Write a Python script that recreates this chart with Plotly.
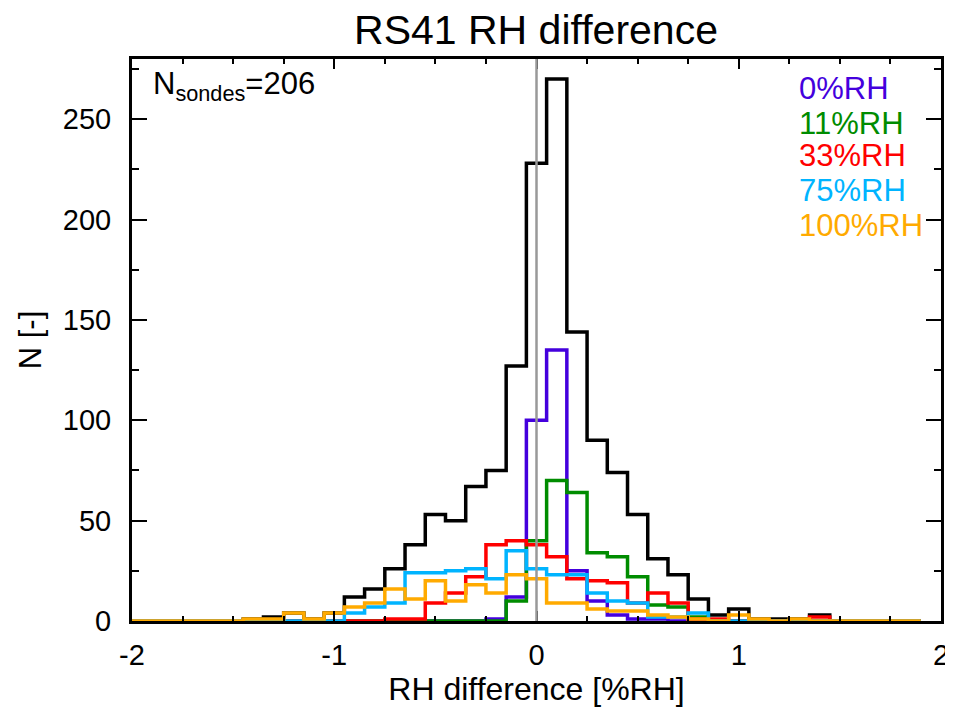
import plotly.graph_objects as go

# Bin centres (width 0.1) of the RH-difference histograms
bin_centers = [-2.0, -1.9, -1.8, -1.7, -1.6, -1.5, -1.4, -1.3, -1.2, -1.1,
               -1.0, -0.9, -0.8, -0.7, -0.6, -0.5, -0.4, -0.3, -0.2, -0.1,
               0.0, 0.1, 0.2, 0.3, 0.4, 0.5, 0.6, 0.7, 0.8, 0.9,
               1.0, 1.1, 1.2, 1.3, 1.4, 1.5, 1.6, 1.7, 1.8, 1.9]

n_all = [0, 0, 0, 0, 0, 0, 1, 2, 4, 1,
         4, 12, 16, 26, 38, 53, 50, 67, 75, 127,
         228, 270, 144, 90, 74, 53, 31, 23, 11, 3,
         6, 1, 1, 1, 3, 0, 0, 0, 0, 0]

n_rh0 = [0, 0, 0, 0, 0, 0, 0, 0, 0, 0,
         0, 0, 0, 0, 0, 0, 0, 0, 1, 12,
         100, 135, 25, 10, 3, 1, 1, 0, 0, 0,
         0, 0, 0, 0, 0, 0, 0, 0, 0, 0]

n_rh11 = [0, 0, 0, 0, 0, 0, 0, 0, 0, 0,
          0, 0, 0, 0, 0, 0, 0, 0, 0, 10,
          40, 70, 64, 34, 32, 22, 8, 7, 2, 0,
          0, 0, 0, 0, 0, 0, 0, 0, 0, 0]

n_rh33 = [0, 0, 0, 0, 0, 0, 0, 0, 0, 0,
          0, 0, 0, 1, 1, 9, 14, 22, 38, 40,
          38, 32, 21, 20, 19, 9, 14, 9, 1, 1,
          0, 0, 0, 0, 2, 0, 0, 0, 0, 0]

n_rh75 = [0, 0, 0, 0, 0, 0, 0, 0, 0, 0,
          0, 4, 7, 9, 24, 24, 25, 26, 21, 35,
          26, 23, 23, 14, 10, 9, 2, 2, 4, 0,
          0, 0, 0, 0, 0, 0, 0, 0, 0, 0]

n_rh100 = [0, 0, 0, 0, 0, 0, 1, 1, 4, 1,
           4, 7, 9, 16, 11, 20, 10, 18, 14, 23,
           21, 9, 9, 6, 5, 5, 3, 2, 1, 0,
           3, 1, 0, 1, 0, 0, 0, 0, 0, 0]

series_names = ["0%RH", "11%RH", "33%RH", "75%RH", "100%RH"]
series_values = [n_rh0, n_rh11, n_rh33, n_rh75, n_rh100]
series_colors = ["#4400DD", "#008C00", "#FF0000", "#00B4FF", "#FFAA00"]

FONT = "Liberation Sans, Arial, Helvetica, sans-serif"

fig = go.Figure()
fig.add_trace(go.Scatter(x=bin_centers, y=n_all, mode="lines",
                         line=dict(shape="hvh", color="black", width=3.5),
                         showlegend=False))
for name, vals, col in zip(series_names, series_values, series_colors):
    fig.add_trace(go.Scatter(x=bin_centers, y=vals, mode="lines", name=name,
                             line=dict(shape="hvh", color=col, width=3.5),
                             showlegend=False))

# vertical zero line
fig.add_shape(type="line", xref="x", yref="paper", x0=0, x1=0, y0=0, y1=1,
              line=dict(color="#999999", width=2.5), layer="above")

# text legend
legend_y = [0.948, 0.886, 0.828, 0.766, 0.704]
for name, col, yy in zip(series_names, series_colors, legend_y):
    fig.add_annotation(text=name, xref="paper", yref="paper", x=0.822, y=yy,
                       xanchor="left", yanchor="middle", showarrow=False,
                       font=dict(family=FONT, size=31, color=col))

fig.add_annotation(text="N<sub>sondes</sub>=206", xref="paper", yref="paper",
                   x=0.024, y=0.952, xanchor="left", yanchor="middle",
                   showarrow=False, font=dict(family=FONT, size=31, color="black"))

# page body adds an 8px offset, so the figure is 8px smaller and margins shifted
fig.update_layout(
    width=945, height=700,
    margin=dict(l=124, r=12, t=51, b=87, autoexpand=False),
    paper_bgcolor="white", plot_bgcolor="white",
    font=dict(family=FONT, color="black"),
    title=dict(text="RS41 RH difference", x=(536 - 8) / 945, xanchor="center",
               y=1 - 22 / 700, yanchor="middle", yref="container",
               font=dict(family=FONT, size=41, color="black")),
    showlegend=False,
)
fig.update_xaxes(
    range=[-2, 2], tickmode="array", tickvals=[-2, -1, 0, 1, 2],
    ticktext=["-2", "-1", "0", "1", "2"],
    ticks="inside", ticklen=10, tickwidth=2, tickcolor="black",
    minor=dict(ticks="inside", dtick=0.25, ticklen=5, tickwidth=2, tickcolor="black"),
    showline=True, linewidth=3, linecolor="black", mirror="allticks",
    showgrid=False, zeroline=False, automargin=False,
    tickfont=dict(family=FONT, size=29, color="black"), ticklabelstandoff=6,
    title=dict(text="RH difference [%RH]", font=dict(family=FONT, size=32, color="black"),
               standoff=4),
)
fig.update_yaxes(
    range=[0, 280], tickmode="array", tickvals=[0, 50, 100, 150, 200, 250],
    ticks="inside", ticklen=15, tickwidth=2, tickcolor="black",
    minor=dict(ticks="inside", dtick=25, ticklen=7, tickwidth=2, tickcolor="black"),
    showline=True, linewidth=3, linecolor="black", mirror="allticks",
    showgrid=False, zeroline=False, automargin=False,
    tickfont=dict(family=FONT, size=29, color="black"), ticklabelstandoff=12,
    title=dict(text="N [-]", font=dict(family=FONT, size=31, color="black"),
               standoff=12),
)

fig.write_html("out.html")
